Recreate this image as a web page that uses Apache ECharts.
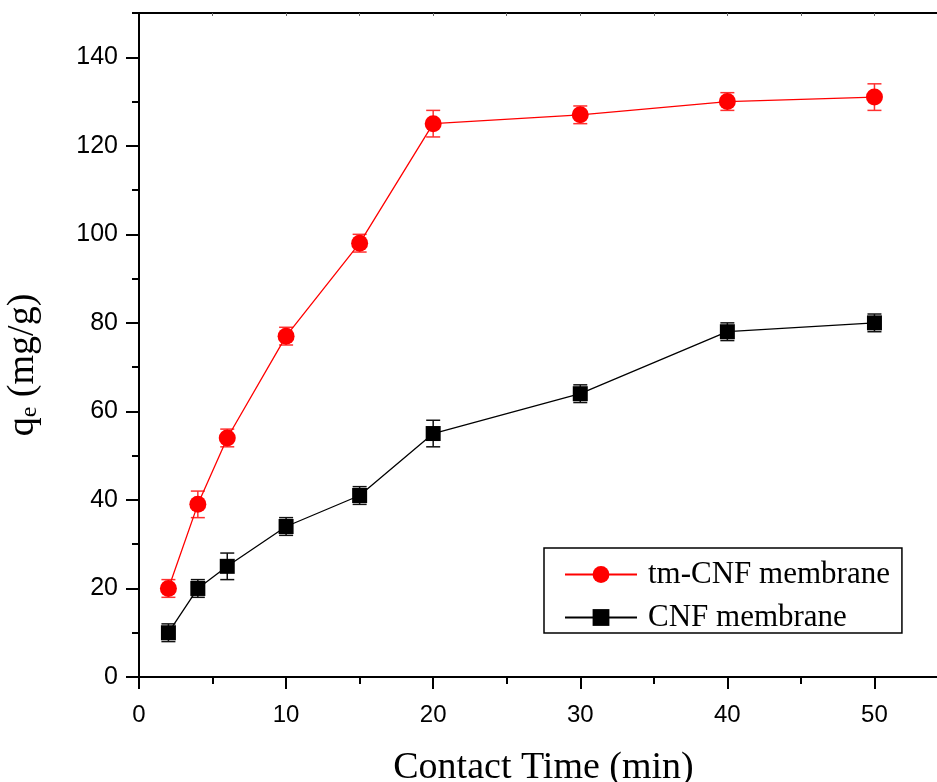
<!DOCTYPE html>
<html>
<head>
<meta charset="utf-8">
<script src="https://cdn.jsdelivr.net/npm/echarts@6/dist/echarts.min.js"></script>
<style>
  html, body { margin: 0; padding: 0; background: #fff; }
  #chart { width: 937px; height: 782px; }
</style>
</head>
<body>
<div id="chart"></div>
<script>
// Adsorption capacity vs. contact time for two membranes
const contactTime = [2, 4, 6, 10, 15, 20, 30, 40, 50];
const tmCnfQe = [20, 39, 54, 77, 98, 125, 127, 130, 131];
const tmCnfErr = [2, 3, 2, 2, 2, 3, 2, 2, 3];
const cnfQe = [10, 20, 25, 34, 41, 55, 64, 78, 80];
const cnfErr = [2, 2, 3, 2, 2, 3, 2, 2, 2];

const xMajorTicks = [0, 10, 20, 30, 40, 50];
const xMinorTicks = [5, 15, 25, 35, 45];
const xTopTicks = [5, 10, 15, 20, 25, 30, 35, 40, 45, 50];
const yMajorTicks = [0, 20, 40, 60, 80, 100, 120, 140];
const yMinorTicks = [10, 30, 50, 70, 90, 110, 130, 150];

const seriesNames = ['tm-CNF membrane', 'CNF membrane'];

const serif = 'Liberation Serif, Times New Roman, serif';
const sans = 'Liberation Sans, Arial, sans-serif';

function pairs(values) {
  return contactTime.map((x, i) => [x, values[i]]);
}

// Vertical error bars with end caps
function errorBars(values, errs, color) {
  return {
    type: 'custom',
    xAxisIndex: 0,
    yAxisIndex: 0,
    silent: true,
    z: 1,
    data: contactTime.map((x, i) => [x, values[i] - errs[i], values[i] + errs[i]]),
    encode: { x: 0, y: [1, 2] },
    renderItem(params, api) {
      const lo = api.coord([api.value(0), api.value(1)]);
      const hi = api.coord([api.value(0), api.value(2)]);
      const hw = 7;
      const style = { stroke: color, lineWidth: 1.5, fill: null };
      return {
        type: 'group',
        children: [
          { type: 'line', shape: { x1: lo[0], y1: lo[1], x2: hi[0], y2: hi[1] }, style },
          { type: 'line', shape: { x1: lo[0] - hw, y1: lo[1], x2: lo[0] + hw, y2: lo[1] }, style },
          { type: 'line', shape: { x1: hi[0] - hw, y1: hi[1], x2: hi[0] + hw, y2: hi[1] }, style }
        ]
      };
    }
  };
}

const axisLineStyle = { color: '#000', width: 2 };

const chart = echarts.init(document.getElementById('chart'), null, { renderer: 'canvas' });

chart.setOption({
  animation: false,
  backgroundColor: '#fff',
  grid: {
    left: 139, top: 13, right: -11, bottom: 105,
    containLabel: false,
    outerBoundsMode: 'none'
  },
  legend: {
    data: seriesNames,
    orient: 'vertical',
    left: 544,
    top: 548,
    itemWidth: 72,
    itemHeight: 21,
    itemGap: 12,
    padding: [11, 12, 0, 20],
    borderColor: '#000',
    borderWidth: 1.5,
    textStyle: { fontFamily: serif, fontSize: 31, color: '#000', padding: [0, 0, 0, 6] }
  },
  xAxis: [
    {
      type: 'value', min: 0, max: 55, position: 'bottom',
      axisLine: { lineStyle: axisLineStyle },
      axisTick: { customValues: xMajorTicks, length: 12, lineStyle: { color: '#000', width: 2 } },
      axisLabel: { customValues: xMajorTicks, margin: 26, fontSize: 24, fontFamily: sans, color: '#000' },
      splitLine: { show: false },
      name: 'Contact Time (min)',
      nameLocation: 'middle',
      nameGap: 72,
      nameTextStyle: { fontFamily: serif, fontSize: 38, color: '#000' }
    },
    {
      type: 'value', min: 0, max: 55, position: 'bottom',
      axisLine: { show: false },
      axisTick: { customValues: xMinorTicks, length: 7, lineStyle: { color: '#000', width: 2 } },
      axisLabel: { show: false },
      splitLine: { show: false }
    },
    {
      type: 'value', min: 0, max: 55, position: 'top',
      axisLine: { lineStyle: axisLineStyle },
      axisTick: { customValues: xTopTicks, inside: true, length: 3, lineStyle: { color: '#666', width: 1 } },
      axisLabel: { show: false },
      splitLine: { show: false }
    }
  ],
  yAxis: [
    {
      type: 'value', min: 0, max: 150, position: 'left',
      axisLine: { show: true, lineStyle: axisLineStyle },
      axisTick: { show: true, customValues: yMajorTicks, length: 13, lineStyle: { color: '#000', width: 2 } },
      axisLabel: { customValues: yMajorTicks, margin: 21, fontSize: 25, fontFamily: sans, color: '#000' },
      splitLine: { show: false },
      name: '{q|q}{e|e}{u| (mg/g)}',
      nameLocation: 'middle',
      nameRotate: 90,
      nameGap: 97,
      nameTextStyle: {
        color: '#000',
        padding: [0, 40, 0, 0],
        rich: {
          q: { fontFamily: serif, fontSize: 38, color: '#000', verticalAlign: 'middle' },
          e: { fontFamily: serif, fontSize: 24, color: '#000', verticalAlign: 'bottom' },
          u: { fontFamily: serif, fontSize: 38, color: '#000', verticalAlign: 'middle' }
        }
      }
    },
    {
      type: 'value', min: 0, max: 150, position: 'left',
      axisLine: { show: false },
      axisTick: { show: true, customValues: yMinorTicks, length: 7, lineStyle: { color: '#000', width: 2 } },
      axisLabel: { show: false },
      splitLine: { show: false }
    }
  ],
  series: [
    errorBars(tmCnfQe, tmCnfErr, '#ff3030'),
    errorBars(cnfQe, cnfErr, '#111'),
    {
      name: seriesNames[0],
      type: 'line',
      xAxisIndex: 0, yAxisIndex: 0,
      data: pairs(tmCnfQe),
      symbol: 'circle',
      symbolSize: 17,
      z: 3,
      lineStyle: { color: '#ff0000', width: 1.3 },
      itemStyle: { color: '#ff0000' }
    },
    {
      name: seriesNames[1],
      type: 'line',
      xAxisIndex: 0, yAxisIndex: 0,
      data: pairs(cnfQe),
      symbol: 'rect',
      symbolSize: 15,
      z: 3,
      lineStyle: { color: '#000', width: 1.3 },
      itemStyle: { color: '#000' }
    }
  ]
});
</script>
</body>
</html>
